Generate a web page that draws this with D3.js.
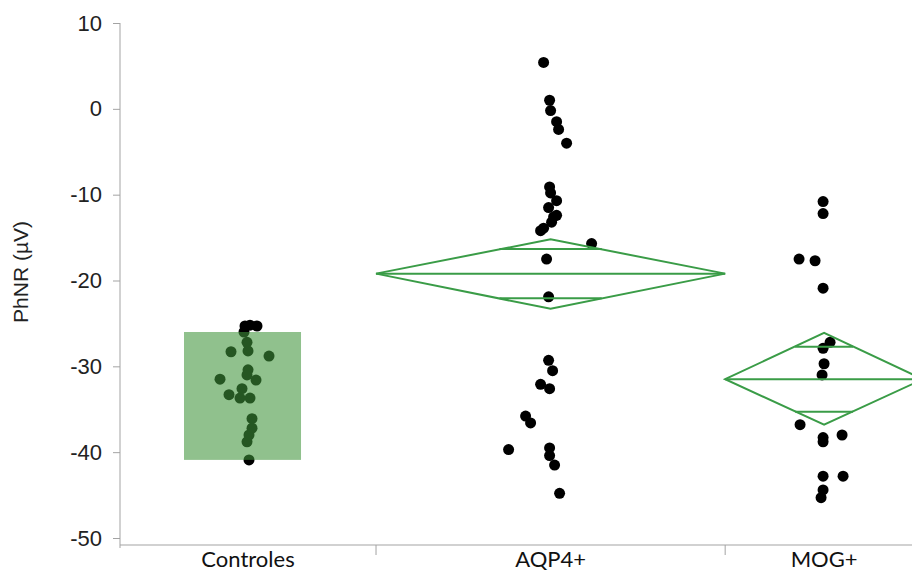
<!DOCTYPE html>
<html>
<head>
<meta charset="utf-8">
<script src="https://cdn.jsdelivr.net/npm/d3@7"></script>
<style>
  body { margin: 0; background: #fff; }
  svg { display: block; }
  .axis path, .axis line { stroke: #a3a3a3; }
  .axis text { font-family: "Liberation Sans", Arial, sans-serif; font-size: 22px; fill: #222; }
</style>
</head>
<body>
<svg id="chart" width="912" height="573"></svg>
<script>
// groups and how many subjects in each (sets band width, JMP style)
const groups = ["Controles", "AQP4+", "MOG+"];
const groupN = [22, 30, 17];

const yTicks = [10, 0, -10, -20, -30, -40, -50];

// PhNR values, with the sideways jitter of each dot
const controles = [-25.3, -25.2, -25.3, -26.0, -27.2, -28.3, -28.2, -28.8, -30.4, -31.0, -31.5,
  -31.6, -32.6, -33.3, -33.7, -33.7, -36.1, -37.2, -38.0, -38.8, -40.9];
const controlesJitter = [-3, 2, 9, -4, -1, -17, 0, 21, 0, -1, -28, 8, -6, -19, -8, 2, 4, 4, 1, -1, 1];

const aqp4 = [5.4, 1.0, -0.2, -1.5, -2.4, -4.0, -9.1, -9.8, -10.7, -11.5, -12.4, -12.6, -13.2,
  -13.9, -14.2, -15.7, -17.5, -21.9, -29.3, -30.5, -32.1, -32.6, -35.8, -36.6, -39.7, -39.5,
  -40.4, -41.5, -44.8];
const aqp4Jitter = [-7, -1, 0, 6, 8, 16, -1, 0, 6, -2, 6, 3, 1, -7, -10, 41, -4, -2, -2, 2, -10,
  -1, -25, -20, -42, -1, -1, 4, 9];

const mog = [-10.8, -12.2, -17.5, -17.7, -20.9, -27.2, -27.9, -29.7, -31.0, -36.8, -38.3, -38.8,
  -38.0, -42.8, -42.8, -44.4, -45.3];
const mogJitter = [-1, -1, -25, -9, -1, 6, -1, 0, -2, -24, -1, -1, 18, -1, 19, -1, -3];

// means diamonds (mean, 95% CI) - none for controls
const diamondMean = [null, -19.2, -31.5];
const diamondLo = [null, -23.3, -36.8];
const diamondHi = [null, -15.2, -26.1];

// shaded normal range on the control group
const controlRange = [-40.9, -26.0];

const values = [controles, aqp4, mog];
const jitters = [controlesJitter, aqp4Jitter, mogJitter];

const svg = d3.select('#chart');
const green = '#3a9c47';

const y = d3.scaleLinear().domain([-50, 10]).range([538, 23]);

// band edges from cumulative n
const cum = [0];
groupN.forEach(n => cum.push(cum[cum.length - 1] + n));
const x = d3.scaleLinear().domain([0, cum[cum.length - 1]]).range([120, 923]);
const left = i => x(cum[i]);
const right = i => x(cum[i + 1]);
const mid = i => (left(i) + right(i)) / 2;

// y axis (plain hyphen for negatives, like the original)
const yAxis = d3.axisLeft(y).tickValues(yTicks).tickFormat(d => String(d))
  .tickSizeOuter(0).tickSize(7).tickPadding(11);
const gy = svg.append('g').attr('class', 'axis').attr('transform', 'translate(120,0)').call(yAxis);
gy.select('.domain').remove();
gy.append('line').attr('x1', 0).attr('x2', 0).attr('y1', y(10)).attr('y2', 548);

// x axis: line + dividers between groups
const gx = svg.append('g').attr('class', 'axis');
gx.append('line').attr('x1', 120).attr('x2', 912).attr('y1', 545).attr('y2', 545);
gx.selectAll('line.div')
  .data(d3.range(1, groups.length))
  .enter().append('line')
  .attr('class', 'div')
  .attr('x1', i => left(i)).attr('x2', i => left(i))
  .attr('y1', 545).attr('y2', 555);

svg.selectAll('text.cat')
  .data(groups)
  .enter().append('text')
  .attr('class', 'cat')
  .attr('x', (d, i) => mid(i))
  .attr('y', 567)
  .attr('text-anchor', 'middle')
  .style('font-family', 'Lato, "Noto Sans", sans-serif')
  .style('font-size', '22px')
  .style('fill', '#111')
  .text(d => d);

// axis title
svg.append('text')
  .attr('transform', 'translate(28,' + y(-19) + ') rotate(-90)')
  .attr('text-anchor', 'middle')
  .style('font-family', '"Liberation Sans", Arial, sans-serif')
  .style('font-size', '21px')
  .style('fill', '#222')
  .text('PhNR (µV)');

// dots
values.forEach((vals, i) => {
  svg.append('g').selectAll('circle')
    .data(vals)
    .enter().append('circle')
    .attr('cx', (d, k) => mid(i) + jitters[i][k])
    .attr('cy', d => y(d))
    .attr('r', 5.5)
    .attr('fill', '#000');
});

// control range box over the dots
const bw = right(0) - left(0);
svg.append('rect')
  .attr('x', left(0) + bw * 0.25)
  .attr('width', bw * 0.457)
  .attr('y', y(controlRange[1]))
  .attr('height', y(controlRange[0]) - y(controlRange[1]))
  .attr('fill', '#3f943b')
  .attr('opacity', 0.58);

// means diamonds
diamondMean.forEach((m, i) => {
  if (m === null) return;
  const g = svg.append('g').attr('fill', 'none').attr('stroke', green).attr('stroke-width', 2);
  const l = left(i), r = right(i), c = mid(i);
  g.append('path').attr('d', 'M' + l + ',' + y(m) + 'L' + c + ',' + y(diamondHi[i]) +
    'L' + r + ',' + y(m) + 'L' + c + ',' + y(diamondLo[i]) + 'Z');
  g.append('line').attr('x1', l).attr('x2', r).attr('y1', y(m)).attr('y2', y(m));
  // overlap marks
  const h = (diamondHi[i] - diamondLo[i]) / 2;
  const o = h / Math.SQRT2;
  const hw = (r - l) / 2 * (1 - 1 / Math.SQRT2);
  [m + o, m - o].forEach(v => {
    g.append('line').attr('x1', c - hw).attr('x2', c + hw).attr('y1', y(v)).attr('y2', y(v));
  });
});
</script>
</body>
</html>
